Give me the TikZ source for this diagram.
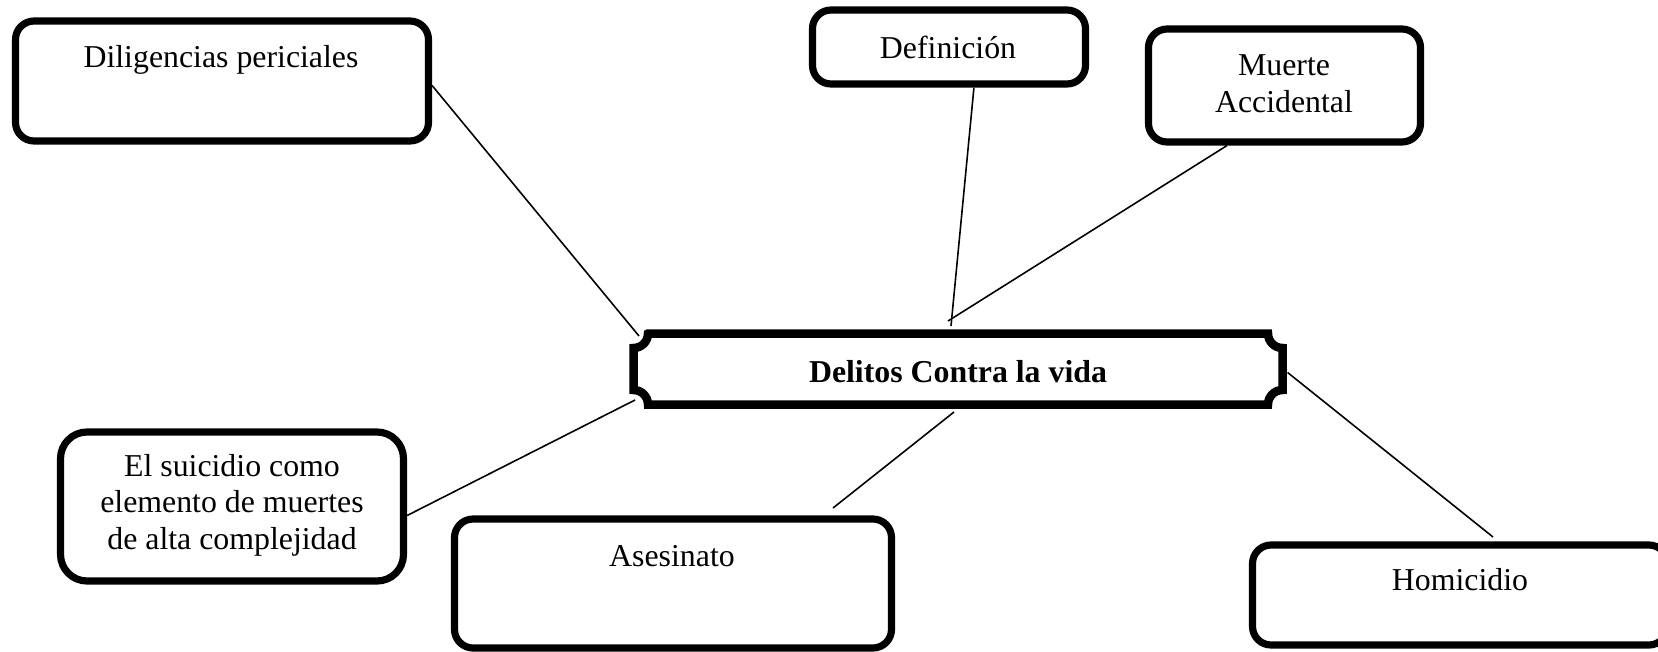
\documentclass[tikz,border=0pt]{standalone}
\usepackage{fontspec}
\setmainfont{Liberation Serif}
\begin{document}
\begin{tikzpicture}[x=0.377pt,y=-0.377pt,
  box/.style={draw=black,line width=2.7pt,rounded corners=7pt,fill=white,inner sep=0pt},
  txt/.style={font=\fontsize{12}{13.8}\selectfont,align=center,inner sep=0pt},
  conn/.style={draw=black,line width=0.6pt}]
\useasboundingbox (0,0) rectangle (1658,651);
\clip (0,0) rectangle (1658,651);
% boxes
\node[box,minimum width=413*0.377pt,minimum height=120*0.377pt] (dil) at (222,81) {};
\node[box,minimum width=273*0.377pt,minimum height=74*0.377pt] (def) at (949,47) {};
\node[box,minimum width=272*0.377pt,minimum height=113*0.377pt] (mue) at (1284.5,85.5) {};
\node[box,rounded corners=10pt,minimum width=343*0.377pt,minimum height=149*0.377pt] (sui) at (232,506.5) {};
\node[box,minimum width=437*0.377pt,minimum height=129*0.377pt] (ase) at (673,583.5) {};
\node[box,minimum width=415*0.377pt,minimum height=100*0.377pt] (hom) at (1460,595) {};
% central plaque
\node[inner sep=0pt,minimum width=658*0.377pt,minimum height=80*0.377pt] (ctr) at (958,369) {};
\draw[line width=3.2pt,line join=miter]
  (648,333.5) -- (1268,333.5)
  arc[start angle=180,end angle=90,radius=14.5]
  -- (1282.5,390)
  arc[start angle=270,end angle=180,radius=14.5]
  -- (648,404.5)
  arc[start angle=360,end angle=270,radius=14.5]
  -- (633.5,348)
  arc[start angle=90,end angle=0,radius=14.5]
  -- cycle;
% texts
\node[txt] (dilT) at (221,60) {Diligencias periciales};
\node[txt] (defT) at (948,47) {Definición};
\node[txt] (mueT) at (1284,84) {Muerte\\Accidental};
\node[txt] (suiT) at (232,505) {El suicidio como\\elemento de muertes\\de alta complejidad};
\node[txt] (aseT) at (672,556) {Asesinato};
\node[txt] (homT) at (1460,580) {Homicidio};
\node[txt,font=\fontsize{12}{13.8}\selectfont\bfseries] (ctrT) at (958,372) {Delitos Contra la vida};
% free ends
\coordinate (e1) at (639,336);
\coordinate (e2) at (951,326);
\coordinate (e3) at (948,321);
\coordinate (e4) at (635,400);
\coordinate (e5) at (833,508);
\coordinate (e6) at (954,412);
\coordinate (e7) at (1493,537);
% connectors
\draw[conn] ([yshift=-1.7pt]dil.east) -- (e1);
\draw[conn] ([xshift=9.4pt]def.south) -- (e2);
\draw[conn] ([xshift=-21.7pt]mue.south) -- (e3);
\draw[conn] ([yshift=-3.4pt]sui.east) -- (e4);
\draw[conn] (e5) -- (e6);
\draw[conn] ([yshift=-1.3pt]ctr.east) -- (e7);
\end{tikzpicture}
\end{document}
